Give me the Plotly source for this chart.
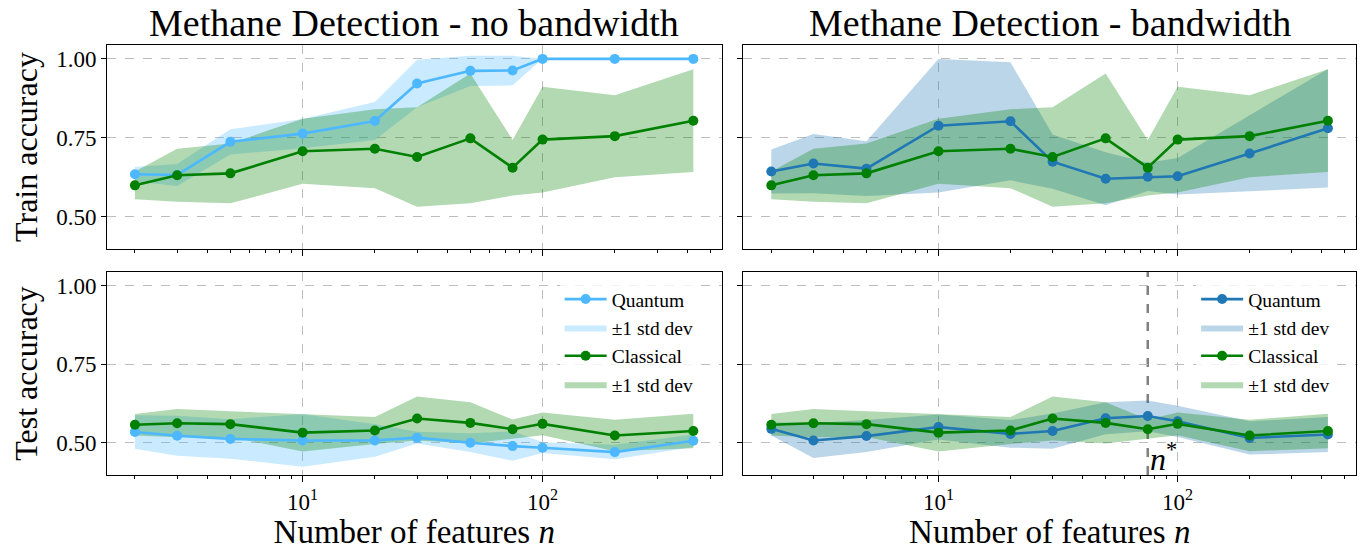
import numpy as np
import plotly.graph_objects as go

# ---------------- data ----------------
n_features = [2, 3, 5, 10, 20, 30, 50, 75, 100, 200, 425]

q_nobw_train_mean = [0.634, 0.632, 0.737, 0.763, 0.803, 0.922, 0.962, 0.963, 1.0, 1.0, 1.0]
q_nobw_train_std = [0.023, 0.035, 0.040, 0.046, 0.060, 0.075, 0.048, 0.047, 0.0, 0.0, 0.0]
q_nobw_test_mean = [0.534, 0.522, 0.512, 0.507, 0.507, 0.516, 0.500, 0.489, 0.484, 0.470, 0.506]
q_nobw_test_std = [0.053, 0.064, 0.063, 0.084, 0.052, 0.019, 0.030, 0.047, 0.017, 0.023, 0.020]

q_bw_train_mean = [0.643, 0.668, 0.652, 0.788, 0.802, 0.674, 0.620, 0.626, 0.628, 0.700, 0.780]
q_bw_train_std = [0.070, 0.094, 0.087, 0.212, 0.187, 0.086, 0.084, 0.045, 0.058, 0.120, 0.188]
q_bw_test_mean = [0.544, 0.507, 0.521, 0.550, 0.528, 0.537, 0.578, 0.585, 0.568, 0.515, 0.526]
q_bw_test_std = [0.021, 0.056, 0.051, 0.040, 0.044, 0.056, 0.051, 0.049, 0.050, 0.053, 0.056]

c_train_mean = [0.599, 0.631, 0.637, 0.707, 0.715, 0.689, 0.748, 0.655, 0.744, 0.755, 0.804]
c_train_std = [0.044, 0.084, 0.095, 0.103, 0.125, 0.158, 0.206, 0.088, 0.168, 0.130, 0.163]
c_test_mean = [0.557, 0.562, 0.559, 0.532, 0.539, 0.577, 0.563, 0.543, 0.560, 0.523, 0.537]
c_test_std = [0.034, 0.045, 0.041, 0.060, 0.043, 0.070, 0.066, 0.031, 0.036, 0.050, 0.055]

n_star = 75
titles = ["Methane Detection - no bandwidth", "Methane Detection - bandwidth"]

# ---------------- styles ----------------
FONT = "Liberation Serif"
ITAL = "<i>{}</i>"
Q_LIGHT = "#4db8ff"
Q_DARK = "#1f77b4"
GREEN = "#008000"


def rgba(hexc, a):
    h = hexc.lstrip("#")
    r, g, b = int(h[0:2], 16), int(h[2:4], 16), int(h[4:6], 16)
    return f"rgba({r},{g},{b},{a})"


fig = go.Figure()


def add_series(xa, ya, mean, std, color, name, legend, showlegend, rank):
    m = np.array(mean)
    s = np.array(std)
    up = m + s
    lo = m - s
    xs = list(n_features) + list(n_features)[::-1]
    ys = list(up) + list(lo)[::-1]
    fig.add_trace(go.Scatter(
        x=xs, y=ys, xaxis=xa, yaxis=ya, fill="toself",
        fillcolor=rgba(color, 0.3), line=dict(width=0), mode="lines",
        name="\u00b11 std dev", showlegend=showlegend, legend=legend,
        legendrank=rank + 1, hoverinfo="skip"))
    return dict(x=n_features, y=mean, xaxis=xa, yaxis=ya, mode="lines+markers",
                line=dict(color=color, width=2.6), marker=dict(color=color, size=10),
                name=name, showlegend=showlegend, legend=legend, legendrank=rank)


panels = [
    ("x", "y", q_nobw_train_mean, q_nobw_train_std, c_train_mean, c_train_std, Q_LIGHT, "legend", False),
    ("x2", "y2", q_bw_train_mean, q_bw_train_std, c_train_mean, c_train_std, Q_DARK, "legend2", False),
    ("x3", "y3", q_nobw_test_mean, q_nobw_test_std, c_test_mean, c_test_std, Q_LIGHT, "legend", True),
    ("x4", "y4", q_bw_test_mean, q_bw_test_std, c_test_mean, c_test_std, Q_DARK, "legend2", True),
]

for xa, ya, qm, qs, cm, cs, qc, lg, sl in panels:
    qline = add_series(xa, ya, qm, qs, qc, "Quantum", lg, sl, 1)
    cline = add_series(xa, ya, cm, cs, GREEN, "Classical", lg, sl, 3)
    fig.add_trace(go.Scatter(**qline))
    fig.add_trace(go.Scatter(**cline))

# ---------------- axes ----------------
XR = [np.log10(1.53), np.log10(557)]
YR = [0.397, 1.044]
minor_vals = [v * 10 ** k for k in range(0, 3) for v in range(2, 10) if v * 10 ** k not in (10, 100)]

W, H = 1361, 550
ML, MR, MT, MB = 107, 4, 45, 73
PW, PH = W - ML - MR, H - MT - MB


def px_x(a, b):
    return [(a - ML) / PW, (b - ML) / PW]


def px_y(top, bot):
    return [(H - MB - bot) / PH, (H - MB - top) / PH]


XD_L = px_x(107, 722)
XD_R = px_x(744, 1357)
YD_T = px_y(45, 250)
YD_B = px_y(273, 477)

tickfont = dict(family=FONT, size=23, color="black")
common_x = dict(type="log", range=XR, tickvals=[10, 100], ticktext=["10<sup>1</sup>", "10<sup>2</sup>"],
                ticks="outside", ticklen=6, tickwidth=1, tickcolor="black",
                showline=True, linecolor="black", linewidth=1, mirror=True,
                showgrid=True, gridcolor="#bdbdbd", griddash="dash", gridwidth=1,
                zeroline=False, tickfont=tickfont,
                minor=dict(tickvals=minor_vals, ticks="outside", ticklen=3, tickwidth=1,
                           tickcolor="black", showgrid=False))
common_y = dict(range=YR, tickvals=[0.5, 0.75, 1.0], ticktext=["0.50", "0.75", "1.00"],
                ticks="outside", ticklen=5, tickwidth=1, tickcolor="black",
                showline=True, linecolor="black", linewidth=1, mirror=True,
                showgrid=True, gridcolor="#bdbdbd", griddash="dash", gridwidth=1,
                zeroline=False, tickfont=tickfont)

xlabel = dict(text="Number of features " + ITAL.format("n"),
              font=dict(family=FONT, size=33, color="black"), standoff=8)

legend_common = dict(xanchor="left", yanchor="top", bgcolor="rgba(255,255,255,0.8)",
                     borderwidth=0, itemwidth=42, tracegroupgap=0,
                     font=dict(family=FONT, size=19.5, color="black"))

fig.update_layout(
    width=W, height=H,
    margin=dict(l=ML, r=MR, t=MT, b=MB),
    paper_bgcolor="white", plot_bgcolor="white",
    xaxis=dict(common_x, domain=XD_L, anchor="y", showticklabels=False),
    xaxis2=dict(common_x, domain=XD_R, anchor="y2", showticklabels=False),
    xaxis3=dict(common_x, domain=XD_L, anchor="y3", title=xlabel),
    xaxis4=dict(common_x, domain=XD_R, anchor="y4", title=xlabel),
    yaxis=dict(common_y, domain=YD_T, anchor="x",
               title=dict(text="Train accuracy", font=dict(family=FONT, size=32, color="black"), standoff=8)),
    yaxis2=dict(common_y, domain=YD_T, anchor="x2", showticklabels=False),
    yaxis3=dict(common_y, domain=YD_B, anchor="x3",
                title=dict(text="Test accuracy", font=dict(family=FONT, size=32, color="black"), standoff=8)),
    yaxis4=dict(common_y, domain=YD_B, anchor="x4", showticklabels=False),
    legend=dict(legend_common, x=(560 - ML) / PW, y=(H - MB - 281) / PH),
    legend2=dict(legend_common, x=(1197 - ML) / PW, y=(H - MB - 281) / PH),
    showlegend=True,
)

# titles
for xd, t in zip([XD_L, XD_R], titles):
    fig.add_annotation(text=t, xref="paper", yref="paper", x=(xd[0] + xd[1]) / 2, y=1.0,
                       xanchor="center", yanchor="bottom", showarrow=False, yshift=-1,
                       font=dict(family=FONT, size=38, color="black"))

# n* marker
fig.add_shape(type="line", xref="x4", yref="y4 domain", x0=n_star, x1=n_star,
              y0=0, y1=1, line=dict(color="gray", width=2.5, dash="dash"), layer="below")
fig.add_annotation(text=ITAL.format("n") + "<sup>*</sup>", xref="x4", yref="y4 domain",
                   x=np.log10(n_star), y=0,
                   xanchor="left", yanchor="bottom", showarrow=False, xshift=0, yshift=-4,
                   font=dict(family=FONT, size=32, color="black"))

fig.write_html("out.html")
